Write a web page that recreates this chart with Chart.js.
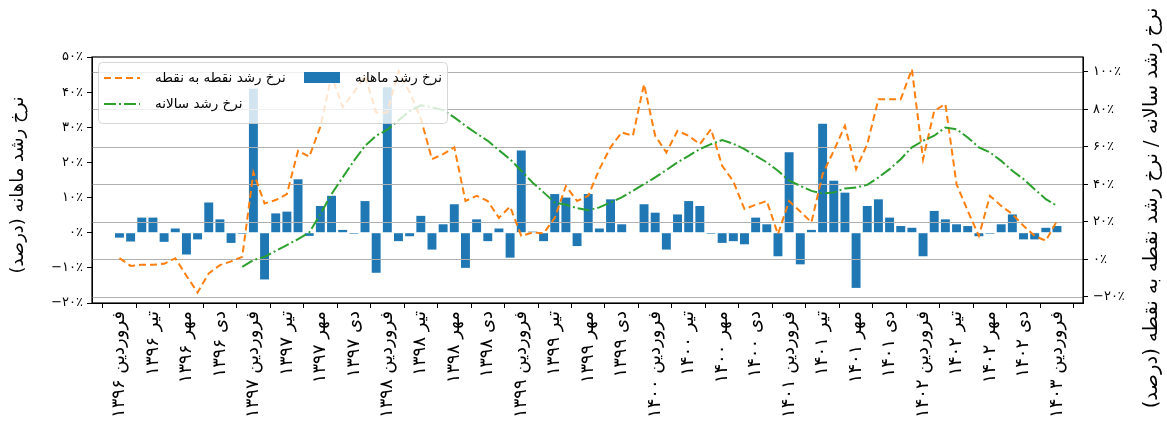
<!DOCTYPE html>
<html>
<head>
<meta charset="utf-8">
<script src="https://cdn.jsdelivr.net/npm/chart.js@4.4.1/dist/chart.umd.min.js"></script>
<style>
  body { margin: 0; background: #fff; }
  #wrap { width: 1167px; height: 426px; }
</style>
</head>
<body>
<div id="wrap"><canvas id="nemudar"></canvas></div>
<script>
// برچسب‌های محور افقی (هر سه ماه)
const tickLabels = [
  'فروردین ۱۳۹۶', 'تیر ۱۳۹۶', 'مهر ۱۳۹۶', 'دی ۱۳۹۶',
  'فروردین ۱۳۹۷', 'تیر ۱۳۹۷', 'مهر ۱۳۹۷', 'دی ۱۳۹۷',
  'فروردین ۱۳۹۸', 'تیر ۱۳۹۸', 'مهر ۱۳۹۸', 'دی ۱۳۹۸',
  'فروردین ۱۳۹۹', 'تیر ۱۳۹۹', 'مهر ۱۳۹۹', 'دی ۱۳۹۹',
  'فروردین ۱۴۰۰', 'تیر ۱۴۰۰', 'مهر ۱۴۰۰', 'دی ۱۴۰۰',
  'فروردین ۱۴۰۱', 'تیر ۱۴۰۱', 'مهر ۱۴۰۱', 'دی ۱۴۰۱',
  'فروردین ۱۴۰۲', 'تیر ۱۴۰۲', 'مهر ۱۴۰۲', 'دی ۱۴۰۲',
  'فروردین ۱۴۰۳'
]

// نرخ رشد ماهانه (محور چپ) - از فروردین ۱۳۹۶ تا فروردین ۱۴۰۳
const rosheMahane = [
  -1.4, -2.5, 4.3, 4.3, -2.6, 1.2, -6.2, -1.9, 8.6, 3.8, -2.9, -0.3,
  41, -13.3, 5.5, 6, 15.2, -0.9, 7.6, 10.5, 0.8, -0.3, 9, -11.4,
  41.4, -2.4, -1, 4.8, -4.8, 2.4, 8.1, -10, 3.8, -2.4, 1.2, -7.1,
  23.4, 0.3, -2.4, 11, 10, -3.8, 11, 1.2, 9.5, 2.4, 0, 8.1,
  5.7, -4.8, 5.2, 9, 7.6, -0.3, -2.9, -2.4, -3.3, 4.3, 2.4, -6.7,
  22.9, -9, 0.8, 31, 14.8, 11.4, -15.7, 7.6, 9.5, 4.3, 1.9, 1.4,
  -6.7, 6.2, 3.8, 2.4, 1.9, -1, -0.3, 2.4, 5.2, -1.9, -1.9, 1.4,
  1.9
]

// نرخ رشد نقطه به نقطه (محور راست)
const noghteBeNoghte = [
  0.5, -3.6, -3, -3, -2.5, 0.5, -8.9, -17.8, -7.6, -3.2, -1.2, 1.2,
  46.2, 29.7, 31.5, 34.7, 57.8, 54.6, 70.6, 97.8, 81, 89, 97.8, 78.2,
  78.2, 100.4, 89, 75, 53.3, 56, 59.6, 31, 33.8, 31, 22, 28,
  12.4, 14.2, 13.7, 22, 39, 31, 33.8, 48, 59.6, 67.6, 65.8, 93.3,
  65.8, 56.9, 68.4, 65.8, 61.3, 69.3, 49.8, 41.5, 26.7, 29, 31, 13.3,
  31, 25.4, 19.6, 45.3, 57.8, 71.1, 48, 61.3, 85.3, 85.3, 85.3, 101.3,
  53.3, 79.1, 82.7, 40, 25.8, 12.4, 33.8, 28.4, 24, 17.8, 12.4, 9.8,
  20.4
]

// نرخ رشد سالانه (محور راست) - از اسفند ۱۳۹۶
const shoroSalane = 11
const rosheSalane = [
  -4.1,
  -0.5, 1.2, 4.4, 7.5, 10.7, 14.2, 24, 34.7, 43.6, 52.4, 60.4, 65.8,
  69, 74, 79, 82, 81, 79.5, 75.6, 71.1, 67, 63.1, 58.1, 53.3,
  47.1, 40.9, 35.6, 30.2, 29, 27.2, 26.1, 27.6, 30.2, 32.9, 36.4, 40,
  43.6, 47.5, 51.6, 55.1, 58.7, 61.3, 63.5, 61.5, 58.7, 55.1, 51.6, 47.1,
  41.8, 39.1, 36.4, 35, 35.6, 37.7, 38.2, 39.6, 43.6, 48, 53.3, 59.6,
  63.1, 65.8, 70.2, 69.3, 64.9, 59.6, 56.9, 52.4, 47.1, 42.7, 37.3, 32,
  28.4
]

const ticksChap = [-20, -10, 0, 10, 20, 30, 40, 50]
const ticksRast = [-20, 0, 20, 40, 60, 80, 100]

const fonte = 'DejaVu Sans'
Chart.defaults.font.family = fonte
Chart.defaults.color = '#000'

function farsi(v) {
  const s = String(Math.abs(v)).replace(/\d/g, d => '۰۱۲۳۴۵۶۷۸۹'[d])
  return (v < 0 ? '−' : '') + s + '٪'
}

const pluginNemudar = {
  id: 'pluginNemudar',
  afterDatasetDraw(chart, args) {
    // خطوط شبکه محور راست روی میله‌ها
    if (args.index !== 0) return
    const ctx = chart.ctx
    const a = chart.chartArea
    const y1 = chart.scales.y1
    ctx.save()
    ctx.strokeStyle = '#b0b0b0'
    ctx.lineWidth = 1.2
    ticksRast.forEach(v => {
      const y = Math.round(y1.getPixelForValue(v)) + 0.5
      ctx.beginPath()
      ctx.moveTo(a.left, y)
      ctx.lineTo(a.right, y)
      ctx.stroke()
    })
    ctx.restore()
  },
  afterDatasetsDraw(chart) {
    const ctx = chart.ctx
    const a = chart.chartArea
    const ds = chart.data.datasets
    ctx.save()

    // قاب
    ctx.strokeStyle = '#000'
    ctx.lineWidth = 1.2
    ctx.strokeRect(a.left, a.top, a.right - a.left, a.bottom - a.top)

    // راهنما
    ctx.beginPath()
    ctx.roundRect(98.5, 62.5, 349, 61, 4)
    ctx.fillStyle = 'rgba(255,255,255,0.8)'
    ctx.fill()
    ctx.strokeStyle = 'rgba(204,204,204,0.8)'
    ctx.lineWidth = 1
    ctx.stroke()

    ctx.lineWidth = 2
    ctx.strokeStyle = ds[1].borderColor
    ctx.setLineDash(ds[1].borderDash)
    ctx.beginPath(); ctx.moveTo(104, 78); ctx.lineTo(140, 78); ctx.stroke()
    ctx.strokeStyle = ds[2].borderColor
    ctx.setLineDash(ds[2].borderDash)
    ctx.beginPath(); ctx.moveTo(104, 104); ctx.lineTo(140, 104); ctx.stroke()
    ctx.setLineDash([])
    ctx.fillStyle = ds[0].backgroundColor
    ctx.fillRect(304, 72, 36, 11)

    ctx.fillStyle = '#000'
    ctx.font = '13.5px "' + fonte + '"'
    ctx.direction = 'rtl'
    ctx.textAlign = 'left'
    ctx.textBaseline = 'middle'
    ctx.fillText(ds[1].label, 155, 78)
    ctx.fillText(ds[2].label, 155, 104)
    ctx.fillText(ds[0].label, 355, 78)
    ctx.restore()
  },
  afterDraw(chart) {
    // عنوان محورها
    const ctx = chart.ctx
    ctx.save()
    ctx.fillStyle = '#000'
    ctx.font = '18px "' + fonte + '"'
    ctx.direction = 'rtl'
    ctx.textAlign = 'center'
    ctx.textBaseline = 'middle'
    ctx.translate(18, 185)
    ctx.rotate(-Math.PI / 2)
    ctx.fillText('نرخ رشد ماهانه (درصد)', 0, 0)
    ctx.restore()

    ctx.save()
    ctx.fillStyle = '#000'
    ctx.font = '19.5px "' + fonte + '"'
    ctx.direction = 'rtl'
    ctx.textAlign = 'center'
    ctx.textBaseline = 'middle'
    ctx.translate(1152, 208)
    ctx.rotate(-Math.PI / 2)
    ctx.fillText('نرخ رشد سالانه / نرخ رشد نقطه به نقطه (درصد)', 0, 0)
    ctx.restore()
  }
}

const ctx = document.getElementById('nemudar')

new Chart(ctx, {
  type: 'bar',
  data: {
    datasets: [{
      type: 'bar',
      label: 'نرخ رشد ماهانه',
      data: rosheMahane.map((v, i) => ({ x: i, y: v })),
      backgroundColor: '#1f77b4',
      borderWidth: 0,
      barPercentage: 0.8,
      categoryPercentage: 1,
      yAxisID: 'y',
      order: 3
    }, {
      type: 'line',
      label: 'نرخ رشد نقطه به نقطه',
      data: noghteBeNoghte.map((v, i) => ({ x: i, y: v })),
      borderColor: '#ff7f0e',
      borderWidth: 2,
      borderDash: [7, 4],
      pointRadius: 0,
      tension: 0,
      fill: false,
      yAxisID: 'y1',
      order: 2
    }, {
      type: 'line',
      label: 'نرخ رشد سالانه',
      data: rosheSalane.map((v, i) => ({ x: i + shoroSalane, y: v })),
      borderColor: '#2ca02c',
      borderWidth: 2,
      borderDash: [12, 3, 2, 3],
      pointRadius: 0,
      tension: 0,
      fill: false,
      yAxisID: 'y1',
      order: 1
    }]
  },
  options: {
    responsive: true,
    maintainAspectRatio: false,
    animation: false,
    layout: { padding: { top: 57, left: 0, right: 0, bottom: 0 } },
    plugins: {
      legend: { display: false },
      tooltip: { enabled: false }
    },
    scales: {
      x: {
        type: 'linear',
        min: -0.93,
        max: 84.8,
        afterBuildTicks: s => { s.ticks = tickLabels.map((t, k) => ({ value: k * 3 })) },
        afterFit: s => { s.height = 123 },
        ticks: {
          callback: (v, i) => tickLabels[i],
          autoSkip: false,
          minRotation: 90,
          maxRotation: 90,
          padding: 3,
          font: { size: 18 }
        },
        grid: { drawOnChartArea: false, tickLength: 5, color: '#000' },
        border: { color: '#000' }
      },
      y: {
        position: 'left',
        min: -20,
        max: 50,
        afterBuildTicks: s => { s.ticks = ticksChap.map(v => ({ value: v })) },
        afterFit: s => { s.width = 92 },
        ticks: {
          callback: v => farsi(v),
          padding: 4,
          font: { size: 13 }
        },
        grid: { drawOnChartArea: false, tickLength: 5, color: '#000' },
        border: { color: '#000' }
      },
      y1: {
        position: 'right',
        min: -23.4,
        max: 107.8,
        afterBuildTicks: s => { s.ticks = ticksRast.map(v => ({ value: v })) },
        afterFit: s => { s.width = 84 },
        ticks: {
          callback: v => farsi(v),
          padding: 5,
          font: { size: 13 }
        },
        grid: { drawOnChartArea: false, tickLength: 5, color: '#000' },
        border: { color: '#000' }
      }
    }
  },
  plugins: [pluginNemudar]
});
</script>
</body>
</html>
